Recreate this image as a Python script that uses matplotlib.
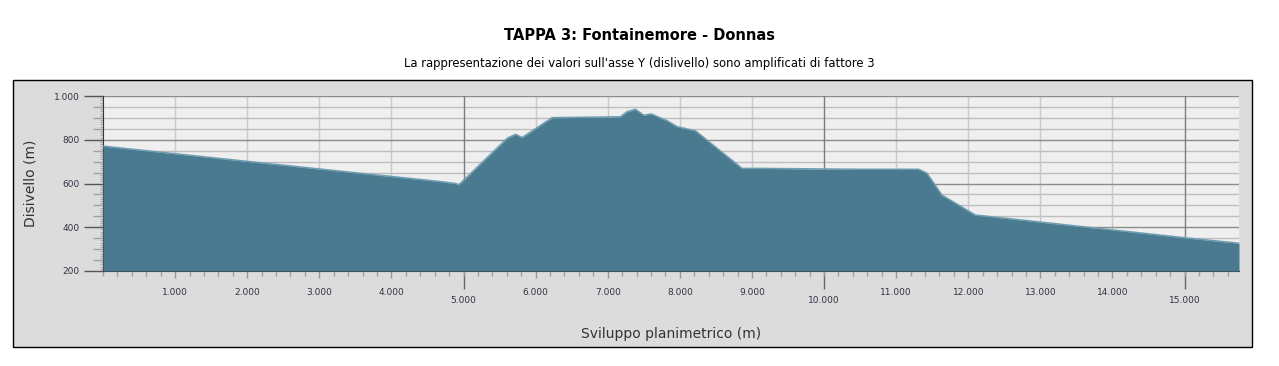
import matplotlib
matplotlib.use("Agg")
import matplotlib.pyplot as plt
from matplotlib.patches import Rectangle
from matplotlib.ticker import MultipleLocator, FixedLocator, FuncFormatter
import numpy as np

# ---- data (distance in m, elevation in m) ----
distance = [0, 3012, 4676, 4889, 4935, 5606, 5721, 5813, 6229, 7176, 7268, 7384,
            7500, 7602, 7823, 7961, 8216, 8863, 9117, 10502, 11311, 11427, 11635,
            12097, 15005, 15755]
elevation = [771, 666, 609, 600, 594, 807, 825, 810, 901, 905, 928, 939,
             912, 918, 887, 860, 841, 669, 669, 665, 665, 647, 547,
             456, 352, 327]
x_ticks_small = [1000, 2000, 3000, 4000, 6000, 7000, 8000, 9000,
                 11000, 12000, 13000, 14000]
x_ticks_big = [5000, 10000, 15000]
y_ticks = [200, 400, 600, 800, 1000]
title = "TAPPA 3: Fontainemore - Donnas"
subtitle = "La rappresentazione dei valori sull'asse Y (dislivello) sono amplificati di fattore 3"

W, H = 1279, 366
fig = plt.figure(figsize=(W / 100, H / 100), dpi=100)
fig.patch.set_facecolor("white")

# gray frame
frame = Rectangle((13 / W, (H - 347) / H), 1239 / W, 267 / H,
                  transform=fig.transFigure, facecolor="#dcdcdc",
                  edgecolor="black", linewidth=1, zorder=-10)
fig.add_artist(frame)

fig.text(0.5, 1 - 35 / H, title, ha="center", va="center", fontsize=10.5,
         fontweight="bold", color="black")
fig.text(0.5, 1 - 63 / H, subtitle, ha="center", va="center", fontsize=8.4,
         color="black")

ax = fig.add_axes([103 / W, (H - 271) / H, 1136 / W, 175 / H])
ax.set_zorder(1)
ax.set_facecolor("#efefef")
ax.set_xlim(0, 15755)
ax.set_ylim(200, 1000)

ax.fill_between(distance, elevation, 200, color="#4a7a8f", zorder=3, linewidth=0)
ax.plot(distance, elevation, color="#6e9db1", linewidth=1.1, zorder=4)

fmt = FuncFormatter(lambda v, p: f"{int(v):,}".replace(",", "."))

# x axis: regular thousands
ax.xaxis.set_major_locator(FixedLocator(x_ticks_small))
ax.xaxis.set_major_formatter(fmt)
ax.xaxis.set_minor_locator(MultipleLocator(200))
ax.tick_params(axis="x", which="major", length=5, width=1, color="#999999",
               labelsize=6.5, labelcolor="#333344", pad=7,
               grid_color="#c8c8c8", grid_linewidth=1)
ax.tick_params(axis="x", which="minor", length=3.5, width=1, color="#a0a0a0")

# x axis: every 5000, longer ticks and lower labels
secx = ax.secondary_xaxis("bottom")
secx.xaxis.set_major_locator(FixedLocator(x_ticks_big))
secx.xaxis.set_major_formatter(fmt)
secx.tick_params(axis="x", which="major", length=13, width=1, color="#666666",
                 labelsize=6.5, labelcolor="#333344", pad=5)
secx.xaxis.set_minor_locator(FixedLocator([]))
secx.spines["bottom"].set_visible(False)
for xv in x_ticks_big:
    ax.axvline(xv, color="#7c7c7c", linewidth=1, zorder=1.5)

# y axis
ax.yaxis.set_major_locator(FixedLocator(y_ticks))
ax.yaxis.set_major_formatter(fmt)
ax.yaxis.set_minor_locator(MultipleLocator(50))
ax.tick_params(axis="y", which="major", length=14, width=1, color="#555555",
               labelsize=6.5, labelcolor="#333344", pad=3,
               grid_color="#8c8c8c", grid_linewidth=1)
ax.tick_params(axis="y", which="minor", length=7, width=1, color="#a0a0a0",
               grid_color="#bdbdbd", grid_linewidth=1)

secy = ax.secondary_yaxis("left")
secy.yaxis.set_major_locator(MultipleLocator(10))
secy.tick_params(axis="y", which="major", length=2.5, width=0.8, color="#aaaaaa",
                 labelleft=False)
secy.spines["left"].set_visible(False)

# grids
ax.grid(True, which="major", axis="x")
ax.grid(True, which="both", axis="y")
ax.set_axisbelow(True)

for s in ["top", "right"]:
    ax.spines[s].set_visible(False)
ax.spines["left"].set_color("#333333")
ax.spines["bottom"].set_color("#333333")

ax.set_ylabel("Disivello (m)", fontsize=10, color="#333333")
ax.set_xlabel("Sviluppo planimetrico (m)", fontsize=10, color="#333333")
ax.yaxis.set_label_coords((37 - 103) / 1136, 0.5)
ax.xaxis.set_label_coords(0.5, -(327 - 271) / 175)

fig.savefig("out.png", dpi=100)
